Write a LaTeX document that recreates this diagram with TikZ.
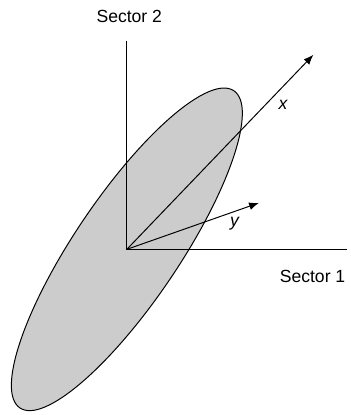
\documentclass[tikz,border=0pt]{standalone}
\usepackage{fontspec}
\setmainfont{Liberation Sans}
\usetikzlibrary{arrows.meta}
\tikzset{
	axisline/.style={line width=0.7pt},
	vecarrow/.style={line width=0.7pt, -{Latex[length=7pt,width=5.5pt]}},
	lbl/.style={font=\fontsize{12.5}{15}\selectfont, inner sep=0pt}
}
\begin{document}
\begin{tikzpicture}
		\useasboundingbox (-3.17,-4.14) rectangle (5.58,6.23);
		
		% Ellipse
		\filldraw[fill=black!20, line width=0.7pt, rotate=56] (0,0) ellipse (4.78 and 1.31);
		
		% Axes
		\coordinate (O) at (0,0);
		\coordinate (s2end) at (0,5.21);
		\coordinate (s1end) at (5.5,0);
		\coordinate (xend) at (4.66,4.86);
		\coordinate (yend) at (3.3,1.16);
		\draw[axisline] (s2end) -- (O) -- (s1end);
		\draw[vecarrow] (O) -- (xend);
		\draw[vecarrow] (O) -- (yend);
		
		% Labels
		\node[lbl] (sector2) at (0.06,5.83) {Sector 2};
		\node[lbl] (sector1) at (4.64,-0.69) {Sector 1};
		\node[lbl] (xlbl) at (3.9,3.6) {\itshape x};
		\node[lbl] (ylbl) at (2.69,0.63) {\itshape y};
	\end{tikzpicture}
\end{document}
